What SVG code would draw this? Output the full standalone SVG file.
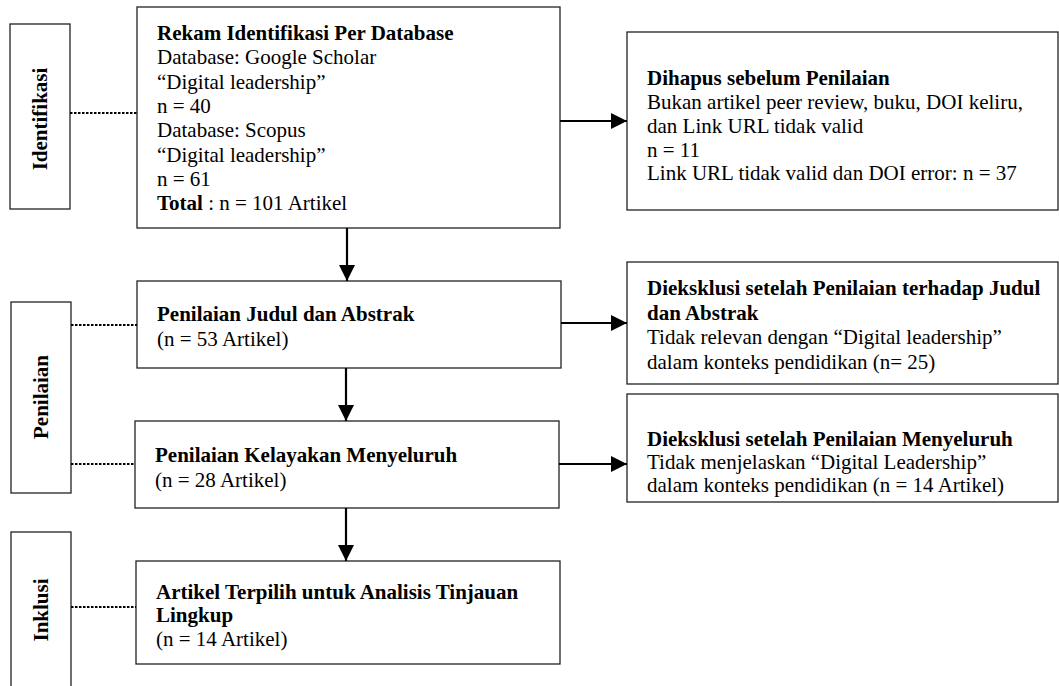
<svg xmlns="http://www.w3.org/2000/svg" width="1059" height="686" viewBox="0 0 1059 686">
<defs>
<style>
text{font-family:"Liberation Serif","Times New Roman",serif;font-size:21px;fill:#000}
.b{font-weight:bold}
.box{fill:#fff;stroke:#222;stroke-width:1.3}
.dot{stroke:#000;stroke-width:2;stroke-dasharray:2.5 1.5;fill:none}
.arr{stroke:#000;stroke-width:2.2;fill:none;marker-end:url(#ah)}
</style>
<marker id="ah" viewBox="0 0 10 10" refX="10" refY="5" markerUnits="userSpaceOnUse" markerWidth="16" markerHeight="16" orient="auto">
<path d="M0,0 L10,5 L0,10 Z" fill="#000"/>
</marker>
</defs>
<rect width="1059" height="686" fill="#fff"/>

<g id="stage-identifikasi">
<rect class="box" x="10" y="24" width="60" height="185"/>
<text class="b" transform="translate(47,119) rotate(-90)" text-anchor="middle">Identifikasi</text>
</g>
<g id="stage-penilaian">
<rect class="box" x="11" y="302" width="60" height="191"/>
<text class="b" transform="translate(48,397) rotate(-90)" text-anchor="middle">Penilaian</text>
</g>
<g id="stage-inklusi">
<rect class="box" x="11" y="532" width="60" height="170"/>
<text class="b" transform="translate(48,610) rotate(-90)" text-anchor="middle">Inklusi</text>
</g>

<g id="n-rekam">
<rect class="box" x="137" y="7" width="423" height="221"/>
<text x="157" y="40" class="b">Rekam Identifikasi Per Database</text>
<text x="157" y="64.3">Database: Google Scholar</text>
<text x="157" y="88.6">“Digital leadership”</text>
<text x="157" y="112.9">n = 40</text>
<text x="157" y="137.2">Database: Scopus</text>
<text x="157" y="161.5">“Digital leadership”</text>
<text x="157" y="185.8">n = 61</text>
<text x="157" y="210.1"><tspan class="b">Total</tspan> : n = 101 Artikel</text>
</g>

<g id="n-dihapus">
<rect class="box" x="627" y="32" width="431" height="178"/>
<text x="647" y="85" class="b">Dihapus sebelum Penilaian</text>
<text x="647" y="109">Bukan artikel peer review, buku, DOI keliru,</text>
<text x="647" y="133">dan Link URL tidak valid</text>
<text x="647" y="157">n = 11</text>
<text x="647" y="180">Link URL tidak valid dan DOI error: n = 37</text>
</g>

<g id="n-judul">
<rect class="box" x="137" y="281" width="424" height="87"/>
<text x="157" y="321" class="b">Penilaian Judul dan Abstrak</text>
<text x="157" y="346">(n = 53 Artikel)</text>
</g>

<g id="n-eks1">
<rect class="box" x="627" y="262" width="431" height="122"/>
<text x="647" y="295" class="b">Dieksklusi setelah Penilaian terhadap Judul</text>
<text x="647" y="320" class="b">dan Abstrak</text>
<text x="647" y="344">Tidak relevan dengan “Digital leadership”</text>
<text x="647" y="369">dalam konteks pendidikan (n= 25)</text>
</g>

<g id="n-kelayakan">
<rect class="box" x="135" y="421" width="424" height="87"/>
<text x="155" y="462" class="b">Penilaian Kelayakan Menyeluruh</text>
<text x="155" y="487">(n = 28 Artikel)</text>
</g>

<g id="n-eks2">
<rect class="box" x="627" y="394" width="431" height="108"/>
<text x="647" y="446" class="b">Dieksklusi setelah Penilaian Menyeluruh</text>
<text x="647" y="469">Tidak menjelaskan “Digital Leadership”</text>
<text x="647" y="492">dalam konteks pendidikan (n = 14 Artikel)</text>
</g>

<g id="n-terpilih">
<rect class="box" x="136" y="561" width="424" height="103"/>
<text x="156" y="599" class="b">Artikel Terpilih untuk Analisis Tinjauan</text>
<text x="156" y="622" class="b">Lingkup</text>
<text x="156" y="646">(n = 14 Artikel)</text>
</g>

<g id="connectors">
<line class="dot" x1="70" y1="113" x2="137" y2="113"/>
<line class="dot" x1="71" y1="325" x2="137" y2="325"/>
<line class="dot" x1="71" y1="464" x2="135" y2="464"/>
<line class="dot" x1="71" y1="607" x2="136" y2="607"/>
<line class="arr" x1="347" y1="228" x2="347" y2="281"/>
<line class="arr" x1="346" y1="368" x2="346" y2="421"/>
<line class="arr" x1="346" y1="508" x2="346" y2="561"/>
<line class="arr" x1="560" y1="121" x2="627" y2="121"/>
<line class="arr" x1="561" y1="323" x2="627" y2="323"/>
<line class="arr" x1="559" y1="464" x2="627" y2="464"/>
</g>
</svg>
